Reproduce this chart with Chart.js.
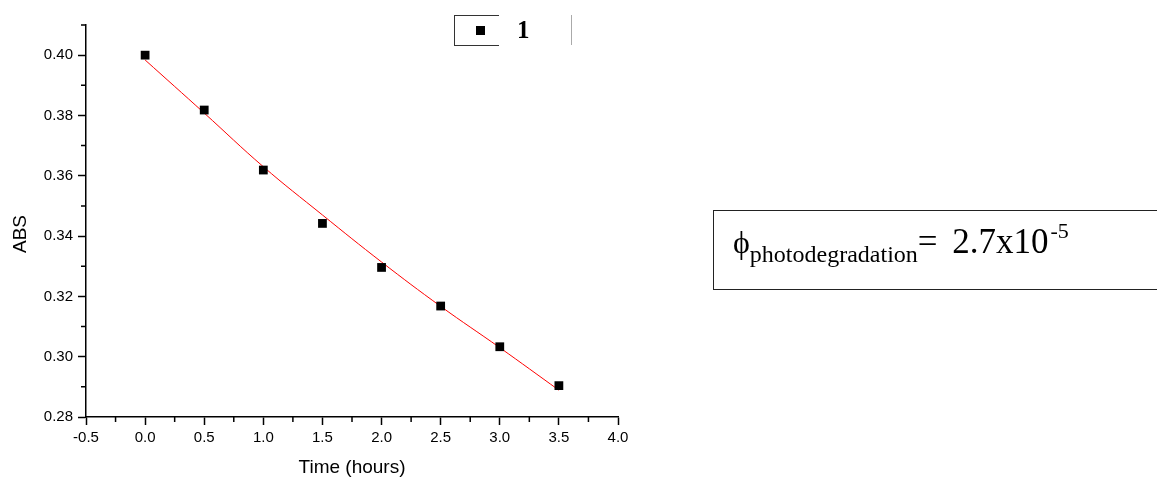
<!DOCTYPE html>
<html>
<head>
<meta charset="utf-8">
<script src="https://cdn.jsdelivr.net/npm/chart.js@4/dist/chart.umd.min.js"></script>
<style>
  body { margin: 0; background: #fff; }
  #wrap { position: relative; width: 1157px; height: 478px; overflow: hidden; }
  #legend { position: absolute; left: 454px; top: 15px; width: 44px; height: 29px;
    border: 1.5px solid #333; border-right: none; }
  #legend .mk { position: absolute; left: 21px; top: 10px; width: 9px; height: 9px; background: #000; }
  #legendLabel { position: absolute; left: 517px; top: 17px; font: bold 25px/25px "Liberation Serif", serif; }
  #legendBar { position: absolute; left: 571px; top: 15px; width: 1px; height: 30px; background: #aaa; }
  #phiBox { position: absolute; left: 713px; top: 210px; width: 460px; height: 78px;
    border: 1.5px solid #222; border-right: none; font-family: "Liberation Serif", serif; }
  #phiBox .txt { position: absolute; left: 19px; top: 13px; white-space: nowrap; font-size: 35px; line-height: 35px; }
  #phiBox .phi { font-size: 32px; }
  #phiBox .num { margin-left: 6px; }
  #phiBox sub { font-size: 24px; vertical-align: -9px; line-height: 0; }
  #phiBox sup { font-size: 22px; vertical-align: 15px; line-height: 0; margin-left: 2px; }
</style>
</head>
<body>
<div id="wrap">
  <canvas id="wykres" width="1157" height="478"></canvas>
  <div id="legend"><div class="mk"></div></div>
  <div id="legendLabel">1</div>
  <div id="legendBar"></div>
  <div id="phiBox"><div class="txt"><span class="phi">&#x3D5;</span><sub>photodegradation</sub>=<span class="num"> 2.7x10</span><sup>-5</sup></div></div>
</div>
<script>
// dane pomiarowe
const czas = [0, 0.5, 1.0, 1.5, 2.0, 2.5, 3.0, 3.5];
const abs = [0.400, 0.3818, 0.3619, 0.3442, 0.3296, 0.3168, 0.3033, 0.2904];
// krzywa dopasowania
const dopasowanie = [0.3984, 0.3808, 0.3630, 0.3470, 0.3314, 0.3167, 0.3030, 0.2889];

const xTickLabels = ["-0.5", "0.0", "0.5", "1.0", "1.5", "2.0", "2.5", "3.0", "3.5", "4.0"];
const yTickLabels = ["0.28", "0.30", "0.32", "0.34", "0.36", "0.38", "0.40"];
const xMinor = [-0.25, 0.25, 0.75, 1.25, 1.75, 2.25, 2.75, 3.25, 3.75];
const yMinor = [0.29, 0.31, 0.33, 0.35, 0.37, 0.39, 0.41];

const font = { family: "'Liberation Sans', Arial, sans-serif" };

// male podzialki osi + tytul osi Y (przesuniety jak w oryginale)
const minorTicks = {
  id: "minorTicks",
  afterDraw(chart) {
    const ctx = chart.ctx;
    const x = chart.scales.x, y = chart.scales.y;
    ctx.save();
    ctx.strokeStyle = "#000";
    ctx.lineWidth = 1.5;
    ctx.beginPath();
    xMinor.forEach(v => {
      const px = x.getPixelForValue(v);
      ctx.moveTo(px, y.bottom);
      ctx.lineTo(px, y.bottom + 5);
    });
    yMinor.forEach(v => {
      const py = y.getPixelForValue(v);
      ctx.moveTo(x.left, py);
      ctx.lineTo(x.left - 5, py);
    });
    ctx.stroke();

    ctx.translate(21, (y.top + y.bottom) / 2 + 13);
    ctx.rotate(-Math.PI / 2);
    ctx.fillStyle = "#000";
    ctx.font = "19px 'Liberation Sans', Arial, sans-serif";
    ctx.textAlign = "center";
    ctx.textBaseline = "middle";
    ctx.fillText("ABS", 0, 0);
    ctx.restore();
  }
};

new Chart(document.getElementById("wykres"), {
  type: "scatter",
  data: {
    datasets: [
      {
        label: "1",
        data: czas.map((t, i) => ({ x: t, y: abs[i] })),
        pointStyle: "rect",
        pointRadius: 6.2,
        backgroundColor: "#000",
        borderColor: "#000",
        borderWidth: 0,
        order: 1,
      },
      {
        label: "fit",
        data: czas.map((t, i) => ({ x: t, y: dopasowanie[i] })),
        showLine: true,
        borderColor: "#ff0000",
        borderWidth: 1,
        pointRadius: 0,
        tension: 0.4,
        order: 2,
      },
    ],
  },
  options: {
    responsive: false,
    devicePixelRatio: 1,
    animation: false,
    layout: { padding: { top: 25, right: 539, left: 0, bottom: 0 } },
    plugins: { legend: { display: false }, tooltip: { enabled: false } },
    scales: {
      x: {
        type: "linear",
        min: -0.5,
        max: 4.0,
        afterFit: s => { s.height = 61; },
        afterBuildTicks: s => { s.ticks = xTickLabels.map(l => ({ value: parseFloat(l) })); },
        ticks: {
          callback: (v) => xTickLabels.find(l => parseFloat(l) === v),
          color: "#000",
          font: { ...font, size: 15 },
          padding: 4,
          maxRotation: 0,
        },
        grid: { drawOnChartArea: false, tickLength: 8, tickColor: "#000", tickWidth: 1.5 },
        border: { color: "#000", width: 1.5 },
        title: { display: true, text: "Time (hours)", color: "#000", font: { ...font, size: 19 }, padding: { top: 0, bottom: -1 } },
      },
      y: {
        type: "linear",
        min: 0.28,
        max: 0.41,
        afterFit: s => { s.width = 86; },
        afterBuildTicks: s => { s.ticks = yTickLabels.map(l => ({ value: parseFloat(l) })); },
        ticks: {
          callback: (v) => yTickLabels.find(l => parseFloat(l) === v),
          color: "#000",
          font: { ...font, size: 15 },
          padding: 5,
        },
        grid: { drawOnChartArea: false, tickLength: 8, tickColor: "#000", tickWidth: 1.5 },
        border: { color: "#000", width: 1.5 },
      },
    },
  },
  plugins: [minorTicks],
});
</script>
</body>
</html>
